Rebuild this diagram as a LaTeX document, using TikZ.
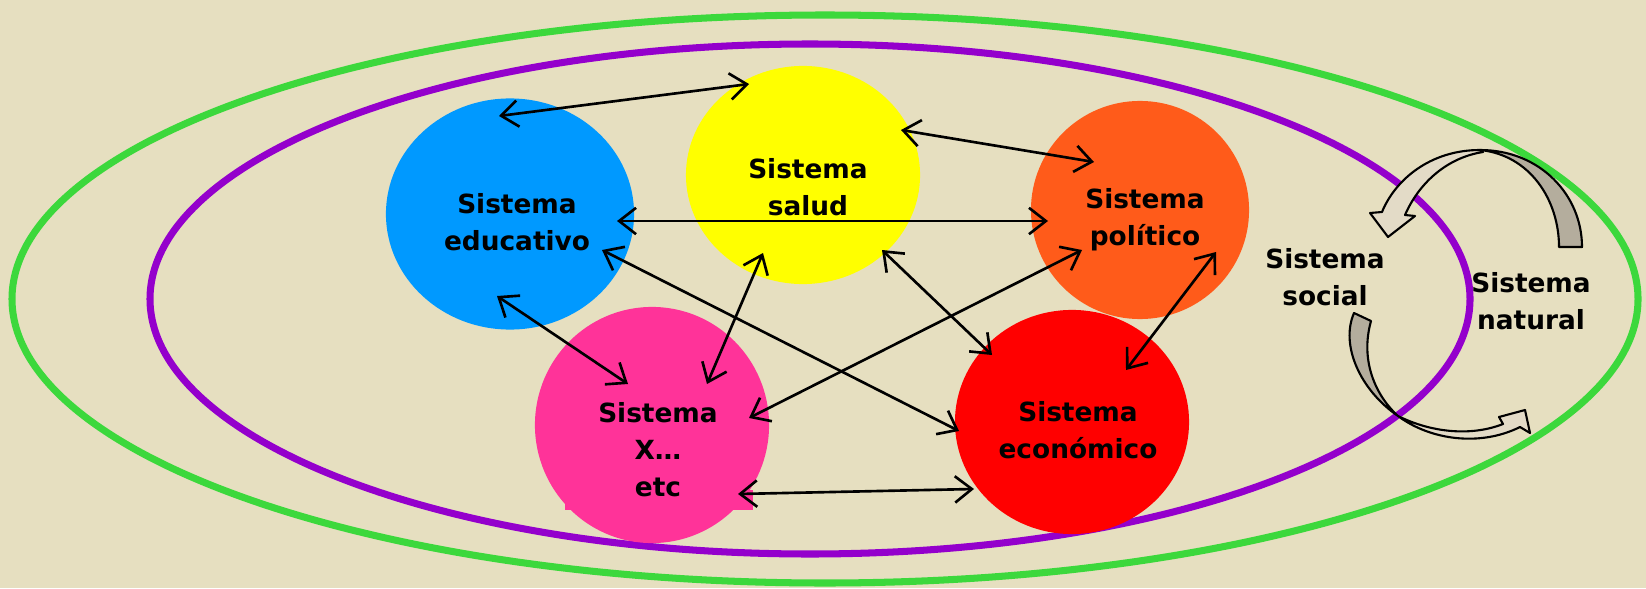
\documentclass[tikz,border=0pt]{standalone}
\usepackage{fontspec}
\setmainfont{DejaVu Sans}
\usetikzlibrary{shapes.geometric,arrows.meta}
\definecolor{fond}{HTML}{E6DFC0}
\definecolor{vertext}{HTML}{3CD83C}
\definecolor{violint}{HTML}{9400CC}
\definecolor{bleusys}{HTML}{0099FF}
\definecolor{jaunesys}{HTML}{FFFF00}
\definecolor{orangesys}{HTML}{FF5B1A}
\definecolor{rougesys}{HTML}{FF0000}
\definecolor{rosesys}{HTML}{FF3399}
\definecolor{dos}{HTML}{B4AD9D}
\definecolor{face}{HTML}{E3DBC7}
\begin{document}
\begin{tikzpicture}[x=0.01cm, y=-0.01cm]
				\tikzset{sys/.style={ellipse, inner sep=0pt}, texte/.style={align=center, font=\bfseries\fontsize{7.5}{10.5}\selectfont}, fleche/.style={{Straight Barb[length=4.8pt,width=7.5pt]}-{Straight Barb[length=4.8pt,width=7.5pt]}, line width=0.75pt}, bloc/.style={draw=black, line width=0.6pt, line join=round}};
				\fill[fond] (0,0) rectangle (1646,588);
				\draw[vertext, line width=2pt] (825,299) ellipse [x radius=813, y radius=284];
				\draw[violint, line width=2pt] (810,299) ellipse [x radius=660, y radius=255];

				\node[sys, fill=bleusys, minimum width=2.48cm, minimum height=2.31cm] (edu) at (510,214) {};
				\node[sys, fill=jaunesys, minimum width=2.34cm, minimum height=2.18cm] (sal) at (803,175) {};
				\node[sys, fill=orangesys, minimum width=2.18cm, minimum height=2.18cm] (pol) at (1140,210) {};
				\node[sys, fill=rougesys, minimum width=2.34cm, minimum height=2.24cm] (eco) at (1072,422) {};
				\node[sys, fill=rosesys, minimum width=2.34cm, minimum height=2.36cm] (otro) at (652,425) {};
				\fill[rosesys] (565,490) rectangle (753,510);

				\node[texte] (edutxt) at (517,222) {Sistema\\educativo};
				\node[texte] (saltxt) at (808,187) {Sistema\\salud};
				\node[texte] (poltxt) at (1145,220) {Sistema\\político};
				\node[texte] (ecotxt) at (1078,430) {Sistema\\económico};
				\node[texte] (otrotxt) at (658,450) {Sistema\\X…\\etc};
				\node[texte] (social) at (1325,277) {Sistema\\social};
				\node[texte] (natural) at (1531,301) {Sistema\\natural};

				\coordinate (edu1) at (499,116);
				\coordinate (edu2) at (617,221);
				\coordinate (edu3) at (602,250);
				\coordinate (edu4) at (497,296);
				\coordinate (sal1) at (749,84);
				\coordinate (sal2) at (901,130);
				\coordinate (sal3) at (763,253);
				\coordinate (sal4) at (882,250);
				\coordinate (pol1) at (1094,162);
				\coordinate (pol2) at (1048,221);
				\coordinate (pol3) at (1082,250);
				\coordinate (pol4) at (1216,252);
				\coordinate (eco1) at (959,431);
				\coordinate (eco2) at (992,355);
				\coordinate (eco3) at (1126,370);
				\coordinate (eco4) at (974,489);
				\coordinate (otro1) at (628,384);
				\coordinate (otro2) at (707,384);
				\coordinate (otro3) at (749,418);
				\coordinate (otro4) at (738,494);

				\draw[fleche] (edu1) -- (sal1);
				\draw[fleche] (sal2) -- (pol1);
				\draw[fleche] (edu2) -- (pol2);
				\draw[fleche] (edu3) -- (eco1);
				\draw[fleche] (edu4) -- (otro1);
				\draw[fleche] (sal3) -- (otro2);
				\draw[fleche] (pol3) -- (otro3);
				\draw[fleche] (sal4) -- (eco2);
				\draw[fleche] (pol4) -- (eco3);
				\draw[fleche] (otro4) -- (eco4);

				\draw[bloc, fill=dos] (1480,150) .. controls (1540,150) and (1582,195) .. (1582,247) -- (1559,247) .. controls (1559,200) and (1530,155) .. (1480,150) -- cycle;
				\draw[bloc, fill=face] (1480,150) .. controls (1430,150) and (1395,180) .. (1382,212) -- (1370,213) -- (1388,237) -- (1415,216) -- (1405,215) .. controls (1418,185) and (1445,158) .. (1483,152) -- cycle;
				\draw[bloc, fill=dos] (1354,313) .. controls (1340,345) and (1360,390) .. (1398,416) .. controls (1375,395) and (1360,360) .. (1371,321) -- cycle;
				\draw[bloc, fill=face] (1398,416) .. controls (1430,440) and (1480,447) .. (1520,427) -- (1530,433) -- (1525,410) -- (1499,417) -- (1503,424) .. controls (1470,437) and (1430,432) .. (1398,416) -- cycle;
\end{tikzpicture}
\end{document}
